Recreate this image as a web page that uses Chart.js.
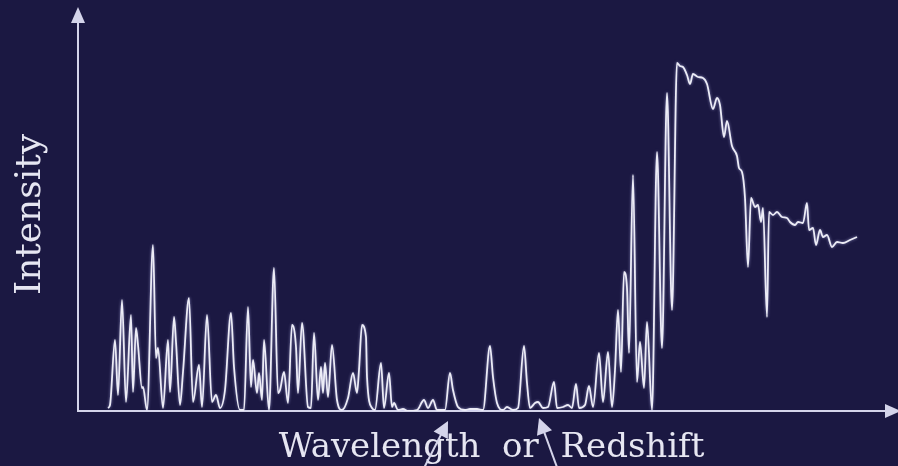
<!DOCTYPE html>
<html>
<head>
<meta charset="utf-8">
<script src="https://cdn.jsdelivr.net/npm/chart.js@4/dist/chart.umd.min.js"></script>
<style>
  html, body { margin: 0; padding: 0; background: #1b1842; }
  #c { display: block; }
</style>
</head>
<body>
<canvas id="c" width="898" height="466"></canvas>
<script>
// Wavelength (arbitrary units)
const wavelength = [
  30, 32, 37, 40, 44, 48, 53, 55, 58, 60, 64, 65, 69, 75, 78, 80, 85, 90, 92, 96,
  98, 102, 105, 111, 115, 121, 124, 129, 134, 138, 142, 147, 153, 156, 162, 166, 170, 173, 175, 179,
  181, 184, 186, 191, 196, 200, 202, 206, 210, 214, 218, 220, 224, 230, 233, 236, 240, 243, 245, 247,
  250, 254, 259, 264, 270, 275, 279, 281, 284, 288, 289, 294, 297, 303, 306, 311, 314, 316, 320, 325,
  330, 339, 346, 350, 355, 359, 367, 372, 375, 380, 387, 392, 399, 405, 412, 415, 419, 425, 429, 435,
  440, 446, 449, 452, 457, 460, 465, 470, 476, 479, 485, 490, 494, 498, 501, 507, 511, 515, 521, 525,
  530, 534, 537, 540, 543, 546, 549, 551, 555, 559, 562, 566, 569, 574, 579, 584, 589, 594, 599, 602,
  605, 609, 612, 615, 620, 625, 629, 635, 639, 642, 646, 649, 654, 659, 661, 664, 667, 670, 673, 677,
  680, 683, 685, 689, 691, 695, 699, 704, 709, 712, 717, 720, 725, 729, 731, 735, 738, 742, 745, 749,
  754, 759, 765, 772, 779
];
// Intensity (arbitrary units)
const intensity = [
  3, 6, 71, 16, 111, 9, 96, 19, 83, 66, 23, 24, 1, 166, 53, 63, 3, 71, 19, 94,
  69, 6, 39, 113, 9, 46, 4, 96, 9, 16, 3, 21, 98, 44, 1, 1, 104, 24, 51, 18,
  38, 11, 71, 1, 143, 18, 21, 39, 8, 86, 64, 18, 88, 4, 3, 78, 11, 44, 18, 48,
  14, 66, 11, 1, 13, 38, 18, 41, 86, 74, 34, 3, 1, 48, 3, 38, 4, 8, 1, 2,
  0, 1, 11, 3, 11, 1, 1, 38, 21, 4, 1, 2, 2, 1, 65, 34, 8, 1, 4, 1,
  3, 65, 28, 3, 8, 9, 3, 4, 29, 3, 4, 6, 3, 27, 3, 6, 25, 4, 58, 9,
  59, 4, 41, 101, 39, 139, 123, 58, 236, 29, 69, 23, 89, 1, 259, 63, 318, 101, 348, 345,
  344, 336, 327, 337, 334, 333, 327, 302, 313, 306, 274, 290, 265, 255, 243, 239, 213, 144, 213, 204,
  206, 189, 203, 94, 199, 196, 199, 194, 193, 189, 186, 189, 188, 208, 181, 183, 166, 181, 174, 176,
  164, 169, 168, 171, 174
];
const xTitle = '\u2002Wavelength  or  Redshift';
const yTitle = 'Intensity';
const xMin = 0, xMax = 810;
const yMin = 0, yMax = 393;

const BG = '#1b1842';
const AXIS = '#d4d4ea';
const LINE = '#ececf6';

const points = wavelength.map((w, i) => ({ x: w, y: intensity[i] }));

const bgPlugin = {
  id: 'bg',
  beforeDraw(chart) {
    const ctx = chart.ctx;
    ctx.save();
    ctx.fillStyle = BG;
    ctx.fillRect(0, 0, chart.width, chart.height);
    ctx.restore();
  }
};

const glowPlugin = {
  id: 'glow',
  beforeDatasetDraw(chart) {
    const ctx = chart.ctx;
    ctx.save();
    ctx.shadowColor = 'rgba(200,200,255,0.6)';
    ctx.shadowBlur = 3;
  },
  afterDatasetDraw(chart) {
    chart.ctx.restore();
  }
};

function arrowHead(ctx, tipX, tipY, dx, dy, len, half) {
  const l = Math.hypot(dx, dy);
  const ux = dx / l, uy = dy / l;
  const bx = tipX - ux * len, by = tipY - uy * len;
  ctx.beginPath();
  ctx.moveTo(tipX, tipY);
  ctx.lineTo(bx - uy * half, by + ux * half);
  ctx.lineTo(bx + uy * half, by - ux * half);
  ctx.closePath();
  ctx.fill();
}

const arrowsPlugin = {
  id: 'arrows',
  afterDraw(chart) {
    const ctx = chart.ctx;
    const a = chart.chartArea;
    ctx.save();
    ctx.fillStyle = AXIS;
    ctx.strokeStyle = AXIS;
    // axis arrow heads
    arrowHead(ctx, a.left, a.top - 11, 0, -1, 16, 7);
    arrowHead(ctx, a.right + 13, a.bottom, 1, 0, 16, 7);
    // pointer arrows beneath the axis
    ctx.lineWidth = 2;
    const arrows = [
      { tx: 423, ty: 470, hx: 448, hy: 421 },
      { tx: 558, ty: 470, hx: 539, hy: 418 }
    ];
    arrows.forEach(p => {
      ctx.beginPath();
      ctx.moveTo(p.tx, p.ty);
      ctx.lineTo(p.hx - (p.hx - p.tx) * 0.2, p.hy - (p.hy - p.ty) * 0.2);
      ctx.stroke();
      arrowHead(ctx, p.hx, p.hy, p.hx - p.tx, p.hy - p.ty, 16, 8);
    });
    ctx.restore();
  }
};

new Chart(document.getElementById('c'), {
  type: 'line',
  data: {
    datasets: [{
      data: points,
      borderColor: LINE,
      borderWidth: 1.8,
      pointRadius: 0,
      fill: false,
      cubicInterpolationMode: 'monotone',
      tension: 0.3
    }]
  },
  options: {
    responsive: false,
    animation: false,
    devicePixelRatio: 1,
    layout: { padding: { left: 0, right: 10, top: 18, bottom: 0 } },
    plugins: { legend: { display: false }, tooltip: { enabled: false } },
    scales: {
      x: {
        type: 'linear',
        min: xMin, max: xMax,
        grid: { display: false, drawTicks: false },
        border: { display: true, color: AXIS, width: 2 },
        ticks: { display: false },
        title: {
          display: true, text: xTitle, color: '#e6e6f2',
          font: { family: 'DejaVu Serif', size: 34, lineHeight: 1 },
          padding: { top: 20, bottom: 1 }
        }
      },
      y: {
        type: 'linear',
        min: yMin, max: yMax,
        grid: { display: false, drawTicks: false },
        border: { display: true, color: AXIS, width: 2 },
        ticks: { display: false },
        title: {
          display: true, text: yTitle, color: '#e6e6f2',
          font: { family: 'DejaVu Serif', size: 36, lineHeight: 1 },
          padding: { top: 13, bottom: 29 }
        }
      }
    }
  },
  plugins: [bgPlugin, glowPlugin, arrowsPlugin]
});
</script>
</body>
</html>
